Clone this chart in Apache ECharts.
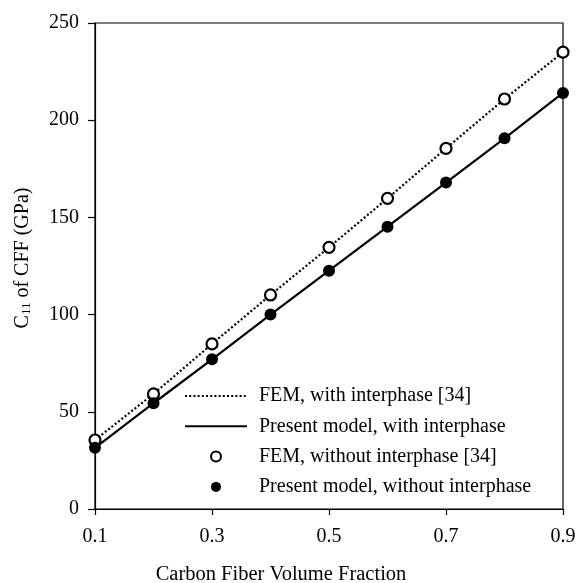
<!DOCTYPE html>
<html>
<head>
<meta charset="utf-8">
<script src="https://cdn.jsdelivr.net/npm/echarts@6/dist/echarts.min.js"></script>
<style>
html,body{margin:0;padding:0;background:#fff;}
#chart{width:576px;height:583px;}
</style>
</head>
<body>
<div id="chart"></div>
<script>
const volumeFraction = [0.1, 0.2, 0.3, 0.4, 0.5, 0.6, 0.7, 0.8, 0.9];
const femWithInterphase = [35.5, 59.2, 84.9, 110.1, 134.6, 159.8, 185.5, 210.9, 235];
const modelWithInterphase = [31.5, 54.4, 77.0, 100.0, 122.6, 145.2, 167.9, 190.7, 214];
const femWithoutInterphase = [35.5, 59.2, 84.9, 110.1, 134.6, 159.8, 185.5, 210.9, 235];
const modelWithoutInterphase = [31.5, 54.4, 77.0, 100.0, 122.6, 145.2, 167.9, 190.7, 214];
const xTickValues = [0.1, 0.3, 0.5, 0.7, 0.9];
const yTickValues = [0, 50, 100, 150, 200, 250];
const seriesNames = [
  'FEM, with interphase [34]',
  'Present model, with interphase',
  'FEM, without interphase [34]',
  'Present model, without interphase'
];

const pairs = (ys) => volumeFraction.map((x, i) => [x, ys[i]]);
const FONT = "'Liberation Serif', 'Times New Roman', serif";
const hiddenSymbol = {color: 'rgba(0,0,0,0)', borderColor: 'rgba(0,0,0,0)', borderWidth: 0};

const chart = echarts.init(document.getElementById('chart'), null, {renderer: 'canvas'});
chart.setOption({
  animation: false,
  backgroundColor: '#fff',
  textStyle: {fontFamily: FONT, color: '#000'},
  grid: {left: 95, right: 13, top: 23, bottom: 74, show: true, borderColor: '#000', borderWidth: 1.2, backgroundColor: 'transparent', containLabel: false, outerBoundsMode: 'none'},
  xAxis: {
    type: 'value',
    min: xTickValues[0],
    max: xTickValues[xTickValues.length - 1],
    interval: 0.2,
    axisLine: {show: true, lineStyle: {color: '#000', width: 1.2}},
    axisTick: {show: true, inside: false, length: 6, lineStyle: {color: '#000', width: 1.2}},
    splitLine: {show: false},
    axisLabel: {
      margin: 18, fontSize: 20, fontFamily: FONT, color: '#000',
      formatter: (v) => Number(v).toFixed(1)
    },
    name: 'Carbon Fiber Volume Fraction',
    nameLocation: 'middle',
    nameGap: 55,
    nameTextStyle: {fontSize: 20.5, fontFamily: FONT, color: '#000', padding: [0, 96, 0, 0]}
  },
  yAxis: {
    type: 'value',
    min: yTickValues[0],
    max: yTickValues[yTickValues.length - 1],
    interval: 50,
    axisLine: {show: true, lineStyle: {color: '#000', width: 1.2}},
    axisTick: {show: true, inside: false, length: 7, lineStyle: {color: '#000', width: 1.2}},
    splitLine: {show: false},
    axisLabel: {margin: 16, fontSize: 20, fontFamily: FONT, color: '#000'},
    name: 'C{sub|11} of CFF (GPa)',
    nameLocation: 'middle',
    nameGap: 62,
    nameRotate: 90,
    nameTextStyle: {
      fontSize: 20, fontFamily: FONT, color: '#000',
      padding: [0, 0, 0, 16],
      rich: {sub: {fontSize: 13, fontFamily: FONT, color: '#000', verticalAlign: 'bottom', padding: [8, 0, 0, 0]}}
    }
  },
  legend: {
    orient: 'vertical',
    left: 179,
    top: 381,
    itemWidth: 62,
    itemHeight: 10,
    itemGap: 10.3,
    selectedMode: false,
    data: [
      {name: seriesNames[0], itemStyle: hiddenSymbol},
      {name: seriesNames[1], itemStyle: hiddenSymbol},
      {name: seriesNames[2]},
      {name: seriesNames[3]}
    ],
    textStyle: {fontSize: 20, fontFamily: FONT, color: '#000', padding: [0, 0, 0, 7], lineHeight: 20}
  },
  series: [
    {
      name: seriesNames[0], type: 'line', data: pairs(femWithInterphase),
      showSymbol: false, symbol: 'none',
      lineStyle: {color: '#000', width: 2.2, type: [2, 2.2]},
      itemStyle: hiddenSymbol, z: 2
    },
    {
      name: seriesNames[1], type: 'line', data: pairs(modelWithInterphase),
      showSymbol: false, symbol: 'none',
      lineStyle: {color: '#000', width: 2.2, type: 'solid'},
      itemStyle: hiddenSymbol, z: 2
    },
    {
      name: seriesNames[2], type: 'scatter', data: pairs(femWithoutInterphase),
      symbol: 'circle', symbolSize: 11,
      itemStyle: {color: '#fff', borderColor: '#000', borderWidth: 2.2, opacity: 1}, z: 3
    },
    {
      name: seriesNames[3], type: 'scatter', data: pairs(modelWithoutInterphase),
      symbol: 'circle', symbolSize: 12,
      itemStyle: {color: '#000', borderColor: '#000', borderWidth: 0, opacity: 1}, z: 3
    }
  ]
});
</script>
</body>
</html>
